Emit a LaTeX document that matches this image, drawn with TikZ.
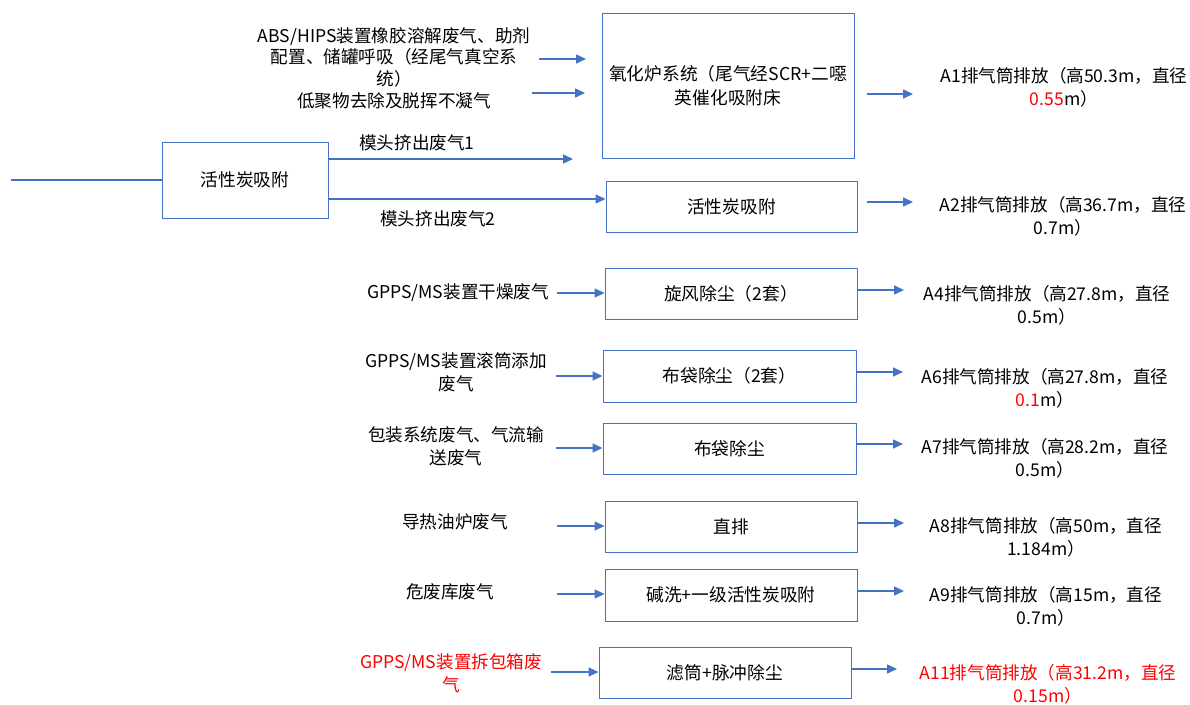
\documentclass[tikz,border=0pt]{standalone}
\usepackage{fontspec}
\setmainfont{Noto Sans CJK SC}
\usetikzlibrary{arrows.meta}
\definecolor{lblue}{HTML}{4472C4}
\definecolor{bred}{HTML}{FF0000}
\tikzset{
  boxnode/.style={draw=lblue, line width=1pt, inner sep=0pt, align=center, font=\fontsize{17.7}{24}\selectfont},
  lbl/.style={inner sep=0pt, align=center, font=\fontsize{17.6}{23}\selectfont},
  arr/.style={draw=lblue, line width=1.5pt, -{Triangle[length=10pt,width=9pt]}},
  plainline/.style={draw=lblue, line width=1.5pt},
}
\begin{document}
\begin{tikzpicture}[x=1pt,y=-1pt]
\useasboundingbox (0,0) rectangle (1190,704);
% boxes
\node[boxnode, minimum width=252pt, minimum height=145pt] (bTop) at (728,85.5) {氧化炉系统（尾气经SCR+二噁\\英催化吸附床};
\node[boxnode, minimum width=166pt, minimum height=76pt] (bLeft) at (245,180) {活性炭吸附};
\node[boxnode, minimum width=251pt, minimum height=51pt] (b2) at (731.5,206.5) {活性炭吸附};
\node[boxnode, minimum width=252pt, minimum height=51pt] (b4) at (731,293.5) {旋风除尘（2套）};
\node[boxnode, minimum width=253pt, minimum height=52pt] (b6) at (729.5,376) {布袋除尘（2套）};
\node[boxnode, minimum width=253pt, minimum height=51pt] (b7) at (729.5,448.5) {布袋除尘};
\node[boxnode, minimum width=252pt, minimum height=51pt] (b8) at (731,526.5) {直排};
\node[boxnode, minimum width=252pt, minimum height=52pt] (b9) at (731,595) {碱洗+一级活性炭吸附};
\node[boxnode, minimum width=252pt, minimum height=51pt] (b11) at (725,672.5) {滤筒+脉冲除尘};

% left labels
\node[lbl, font=\fontsize{17.6}{21.7}\selectfont] (lTop) at (394,68) {ABS/HIPS装置橡胶溶解废气、助剂\\配置、储罐呼吸（经尾气真空系\\统）\\低聚物去除及脱挥不凝气};
\node[lbl] (lm1) at (417,143) {模头挤出废气1};
\node[lbl] (lm2) at (438,219) {模头挤出废气2};
\node[lbl] (l4) at (458,293) {GPPS/MS装置干燥废气};
\node[lbl] (l6) at (456,372) {GPPS/MS装置滚筒添加\\废气};
\node[lbl] (l7) at (456,446.5) {包装系统废气、气流输\\送废气};
\node[lbl] (l8) at (455,522) {导热油炉废气};
\node[lbl] (l9) at (450,592) {危废库废气};
\node[lbl, text=bred] (l11) at (451,673) {GPPS/MS装置拆包箱废\\气};

% right labels
\node[lbl] (r1) at (1064,87.5) {A1排气筒排放（高50.3m，直径\\{\color{bred}0.55}m）};
\node[lbl] (r2) at (1063,216.5) {A2排气筒排放（高36.7m，直径\\0.7m）};
\node[lbl] (r4) at (1047,305.5) {A4排气筒排放（高27.8m，直径\\0.5m）};
\node[lbl] (r6) at (1045,388.5) {A6排气筒排放（高27.8m，直径\\{\color{bred}0.1}m）};
\node[lbl] (r7) at (1045,458.5) {A7排气筒排放（高28.2m，直径\\0.5m）};
\node[lbl] (r8) at (1046,537) {A8排气筒排放（高50m，直径\\1.184m）};
\node[lbl] (r9) at (1046,606) {A9排气筒排放（高15m，直径\\0.7m）};
\node[lbl, text=bred] (r11) at (1048,684.5) {A11排气筒排放（高31.2m，直径\\0.15m）};

% connector end points
\coordinate (t1s) at (539,59);
\coordinate (t1e) at (586,59);
\coordinate (t2s) at (532,93);
\coordinate (t2e) at (585,93);
\coordinate (o1s) at (867,94);
\coordinate (o1e) at (913,94);
\coordinate (inS) at (11,180);
\coordinate (m1e) at (573,159);
\coordinate (m2y) at (0,199);
\coordinate (o2s) at (867,202);
\coordinate (o2e) at (913,202);
\coordinate (s4) at (557,293);
\coordinate (e4) at (904,290);
\coordinate (s6) at (556,376);
\coordinate (e6) at (903,372);
\coordinate (s7) at (556,448);
\coordinate (e7) at (903,444);
\coordinate (s8) at (557,526);
\coordinate (e8) at (904,523);
\coordinate (s9) at (557,594);
\coordinate (e9) at (904,591);
\coordinate (s11) at (551,672);
\coordinate (e11) at (897,669);

% connectors
\draw[arr] (t1s) -- (t1e);
\draw[arr] (t2s) -- (t2e);
\draw[arr] (o1s) -- (o1e);
\draw[plainline] (inS) -- (bLeft.west |- inS);
\draw[arr] (bLeft.east |- m1e) -- (m1e);
\draw[arr] (bLeft.east |- m2y) -- (b2.west |- m2y);
\draw[arr] (o2s) -- (o2e);
\draw[arr] (s4) -- (b4.west |- s4);
\draw[arr] (b4.east |- e4) -- (e4);
\draw[arr] (s6) -- (b6.west |- s6);
\draw[arr] (b6.east |- e6) -- (e6);
\draw[arr] (s7) -- (b7.west |- s7);
\draw[arr] (b7.east |- e7) -- (e7);
\draw[arr] (s8) -- (b8.west |- s8);
\draw[arr] (b8.east |- e8) -- (e8);
\draw[arr] (s9) -- (b9.west |- s9);
\draw[arr] (b9.east |- e9) -- (e9);
\draw[arr] (s11) -- (b11.west |- s11);
\draw[arr] (b11.east |- e11) -- (e11);
\end{tikzpicture}
\end{document}
